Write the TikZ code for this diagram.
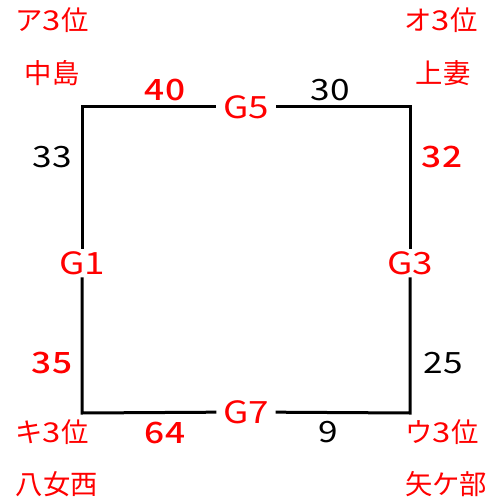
\documentclass[tikz,border=0pt]{standalone}
\usepackage{fontspec}
\setmainfont{Noto Sans CJK JP}
\newfontfamily\widefont[FakeStretch=1.2]{Noto Sans CJK JP}
\newfontfamily\widemedfont[FakeStretch=1.2]{Noto Sans CJK JP Medium}
\begin{document}
\begin{tikzpicture}[x=0.75pt,y=-0.75pt,
  edge/.style={line width=2.25pt,line cap=rect},
  gnode/.style={text=red,font=\widefont\fontsize{23}{23}\selectfont,inner xsep=6pt,inner ysep=3pt},
  num/.style={font=\widefont\fontsize{22}{22}\selectfont,inner sep=0pt},
  rnum/.style={text=red,font=\widemedfont\fontsize{22}{22}\selectfont,inner sep=0pt},
  lab/.style={text=red,font=\fontsize{20.5}{20.5}\selectfont,inner sep=0pt}]
\useasboundingbox (0,0) rectangle (493,502);
\coordinate (tl) at (82,107);
\coordinate (tr) at (410,107);
\coordinate (br) at (410,413);
\coordinate (bl) at (82,413);
\node[gnode] (G5) at (246,107) {G5};
\node[gnode] (G3) at (410,263) {G3};
\node[gnode] (G7) at (246,412) {G7};
\node[gnode] (G1) at (82,263) {G1};
\draw[edge] (G5) -- (tr) -- (G3);
\draw[edge] (G3) -- (br) -- (G7);
\draw[edge] (G7) -- (bl) -- (G1);
\draw[edge] (G1) -- (tl) -- (G5);
\node[rnum] (n40) at (165,90) {40};
\node[num] (n30) at (330,90) {30};
\node[num] (n33) at (52,157) {33};
\node[rnum] (n35) at (52,363) {35};
\node[rnum] (n32) at (442,157) {32};
\node[num] (n25) at (443,363) {25};
\node[rnum] (n64) at (165,433) {64};
\node[num] (n9) at (328,432) {9};
\node[lab] (a3) at (52,20) {ア{\widefont 3}位};
\node[lab] (nakajima) at (52,73) {中島};
\node[lab] (o3) at (441,20) {オ{\widefont 3}位};
\node[lab] (kouzuma) at (443,73) {上妻};
\node[lab] (ki3) at (52,432) {キ{\widefont 3}位};
\node[lab] (yame) at (57,484) {八女西};
\node[lab] (u3) at (442,432) {ウ{\widefont 3}位};
\node[lab] (yakabe) at (446,484) {矢ケ部};
\end{tikzpicture}
\end{document}
